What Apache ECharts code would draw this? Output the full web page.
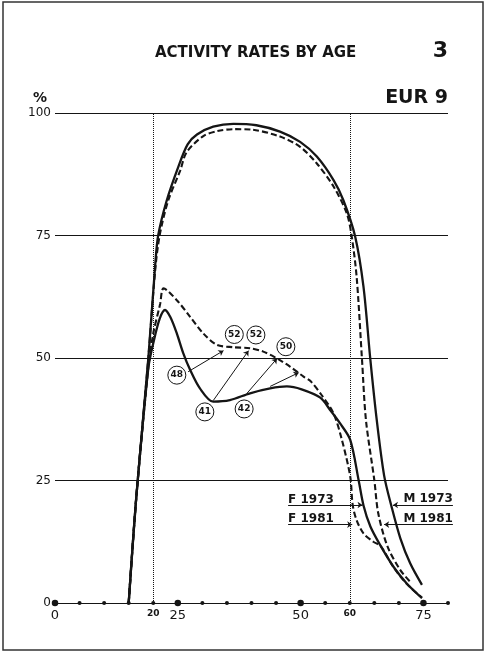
<!DOCTYPE html>
<html>
<head>
<meta charset="utf-8">
<script src="https://cdn.jsdelivr.net/npm/echarts@6/dist/echarts.min.js"></script>
<style>
  html, body { margin: 0; padding: 0; background: #fff; }
  #main { width: 486px; height: 653px; }
</style>
</head>
<body>
<div id="main"></div>
<script>
// axis
var ageTicks = [0, 5, 10, 15, 20, 25, 30, 35, 40, 45, 50, 55, 60, 65, 70, 75, 80];
var bigTickAges = [0, 25, 50, 75];
var smallLabelAges = [20, 60];
var refAges = [20, 60];

// activity rates, [age, %]
var m1973 = [[15,0],[16.5,21],[19,50],[20.4,69],[21,75],[22.7,82],[25.1,89],[27,93.6],[28.9,95.6],[32.2,97.2],
  [36.3,97.8],[41,97.5],[45.8,96.2],[49.9,94.1],[53.3,91.1],[56.7,86.3],[58.7,82.2],[61.1,74.8],[62.8,64.5],
  [64.2,49.6],[65.5,37.3],[67.0,26],[68.5,19.7],[70.3,13.2],[72.3,8.1],[74.7,3.7]];
var m1981 = [[15,0],[16.5,21],[19,50],[20.4,68],[21.3,75],[23,82],[25.5,88.3],[26.8,92],[30.2,95.3],[33,96.3],
  [36.3,96.7],[40,96.6],[45.8,95.2],[49.9,93.1],[53.3,89.7],[56.7,85],[59.4,79.5],[60.4,74.8],[61.4,66.6],
  [62.5,49.6],[63.3,37.3],[65,25.1],[65.8,18.3],[67.7,11.5],[70.3,6.7],[72.6,4.0]];
var f1973 = [[15,0],[16.5,21],[19,48],[20,53],[21.3,58],[22.4,59.8],[23.5,58.3],[24.8,55],[26.1,51],[27.5,47.6],
  [29.5,43.8],[32.2,41.1],[35.6,41.4],[39.7,42.8],[43.8,43.8],[47.2,44.2],[50.2,43.6],[54,41.9],[56,39.4],
  [58,36.7],[60.1,33.3],[61.8,25.1],[62.8,19.9],[64.2,15.6],[66.2,11.8],[68.9,7.4],[71.6,4.0],[74.7,1.0]];
var f1981 = [[15,0],[16.5,21],[19,48],[20,55],[21.4,61],[22.1,64.2],[24.8,61.8],[27.5,58.4],[30.2,55],[32.9,52.7],
  [36.3,52.2],[39.7,52],[42.4,51.3],[45.2,49.9],[47.9,48.2],[50.6,46.2],[52,45.3],[54.3,42.4],[56.7,38.7],
  [58.4,33.3],[60.1,25.8],[60.6,20],[61.4,16.9],[62.8,14.2],[64.8,12.5],[66.3,11.6],[68.9,7.3],[71.6,3.9],[74.7,1.1]];

// circled values and cohort arrows
var circleValues = ['48', '52', '52', '50', '41', '42'];
var circlePos = [[24.8,46.5],[36.5,54.8],[40.9,54.7],[47.0,52.3],[30.5,39.0],[38.5,39.6]];
var cohortArrows = [
  [[27.1,47.2],[34.3,51.5]],
  [[32.2,41.3],[39.4,51.5]],
  [[39.0,42.7],[45.2,49.9]],
  [[43.8,44.2],[49.6,47.0]]
];

// series labels
var seriesNames = ['F 1973', 'F 1981', 'M 1973', 'M 1981'];
var namePos = [[47.45,21.1],[47.45,17.2],[81.0,21.2],[81.0,17.2]];
var nameSide = ['right', 'right', 'left', 'left'];
var pointerLines = [
  [[47.45,20.0],[62.6,20.0]],
  [[47.45,16.0],[60.5,16.0]],
  [[81.0,20.0],[68.8,20.0]],
  [[81.0,16.0],[67.0,16.0]]
];

var chart = echarts.init(document.getElementById('main'));
var ink = '#151515';
var font = 'DejaVu Sans';

function curve(name, data, dashed, width) {
  return {
    name: name, type: 'line', data: data, showSymbol: false,
    smooth: 0.3,
    lineStyle: { color: ink, width: width, type: dashed ? [6, 3] : 'solid' },
    z: 3
  };
}

var option = {
  animation: false,
  backgroundColor: '#fff',
  title: [
    { text: 'ACTIVITY RATES BY AGE', left: 155, top: 46, padding: 0,
      textStyle: { fontFamily: font, fontWeight: 'bold', fontSize: 15, color: ink } },
    { text: '3', right: 38, top: 40, padding: 0,
      textStyle: { fontFamily: font, fontWeight: 'bold', fontSize: 22, color: ink } },
    { text: 'EUR 9', right: 38, top: 89, padding: 0,
      textStyle: { fontFamily: font, fontWeight: 'bold', fontSize: 19, color: ink } },
    { text: '%', left: 33, top: 91, padding: 0,
      textStyle: { fontFamily: font, fontWeight: 'bold', fontSize: 14, color: ink } }
  ],
  graphic: [
    { type: 'rect', shape: { x: 3, y: 2, width: 480, height: 648 },
      style: { fill: 'none', stroke: '#333', lineWidth: 1.5 }, silent: true }
  ],
  grid: { left: 55, right: 38, top: 113, bottom: 50 },
  xAxis: {
    type: 'value', min: 0, max: 80, interval: 5,
    axisLine: { show: true, lineStyle: { color: ink, width: 1 } },
    axisTick: { show: false },
    splitLine: { show: false },
    axisLabel: {
      margin: 6,
      formatter: function (v) {
        if (bigTickAges.indexOf(v) >= 0) return '{b|' + v + '}';
        if (smallLabelAges.indexOf(v) >= 0) return '{s|' + v + '}';
        return '';
      },
      rich: {
        b: { fontFamily: font, fontSize: 13, color: ink },
        s: { fontFamily: font, fontSize: 9, fontWeight: 'bold', color: ink, padding: [0, 0, 3, 0] }
      }
    }
  },
  yAxis: {
    type: 'value', min: 0, max: 100, interval: 25,
    axisLine: { show: false },
    axisTick: { show: false },
    splitLine: { show: true, lineStyle: { color: ink, width: 1 } },
    axisLabel: { margin: 4, fontFamily: font, fontSize: 12, color: ink }
  },
  series: [
    curve('M 1973', m1973, false, 2.3),
    curve('M 1981', m1981, true, 2.1),
    curve('F 1973', f1973, false, 2.3),
    curve('F 1981', f1981, true, 2.1),
    {
      type: 'scatter', name: 'ticks', clip: false, z: 4,
      data: ageTicks.map(function (a) { return [a, 0]; }),
      symbolSize: function (d) { return bigTickAges.indexOf(d[0]) >= 0 ? 6.5 : 4; },
      itemStyle: { color: ink, opacity: 1 },
      markLine: {
        silent: true, symbol: 'none', label: { show: false },
        lineStyle: { color: ink, type: 'dotted', width: 1 },
        data: refAges.map(function (a) { return { xAxis: a }; })
      }
    },
    {
      type: 'lines', coordinateSystem: 'cartesian2d', clip: false, z: 5,
      symbol: ['none', 'arrow'], symbolSize: 5,
      lineStyle: { color: ink, width: 1, opacity: 1 },
      data: cohortArrows.map(function (c) { return { coords: c }; })
    },
    {
      type: 'lines', coordinateSystem: 'cartesian2d', clip: false, z: 5,
      symbol: ['none', 'arrow'], symbolSize: 5,
      lineStyle: { color: ink, width: 1, opacity: 1 },
      data: pointerLines.map(function (c) { return { coords: c }; })
    },
    {
      type: 'scatter', clip: false, z: 6,
      data: circlePos.map(function (p, i) { return { value: p, label: { formatter: circleValues[i] } }; }),
      symbol: 'circle', symbolSize: 18,
      itemStyle: { color: '#fff', borderColor: ink, borderWidth: 1, opacity: 1 },
      label: { show: true, position: 'inside', fontFamily: font, fontSize: 9, fontWeight: 'bold', color: ink }
    },
    {
      type: 'scatter', clip: false, z: 6,
      data: namePos.map(function (p, i) {
        return { value: p, label: { formatter: seriesNames[i], position: nameSide[i] } };
      }),
      symbolSize: 0,
      itemStyle: { opacity: 1 },
      label: { show: true, distance: 0, fontFamily: font, fontSize: 12, fontWeight: 'bold', color: ink }
    }
  ]
};
chart.setOption(option);
</script>
</body>
</html>
